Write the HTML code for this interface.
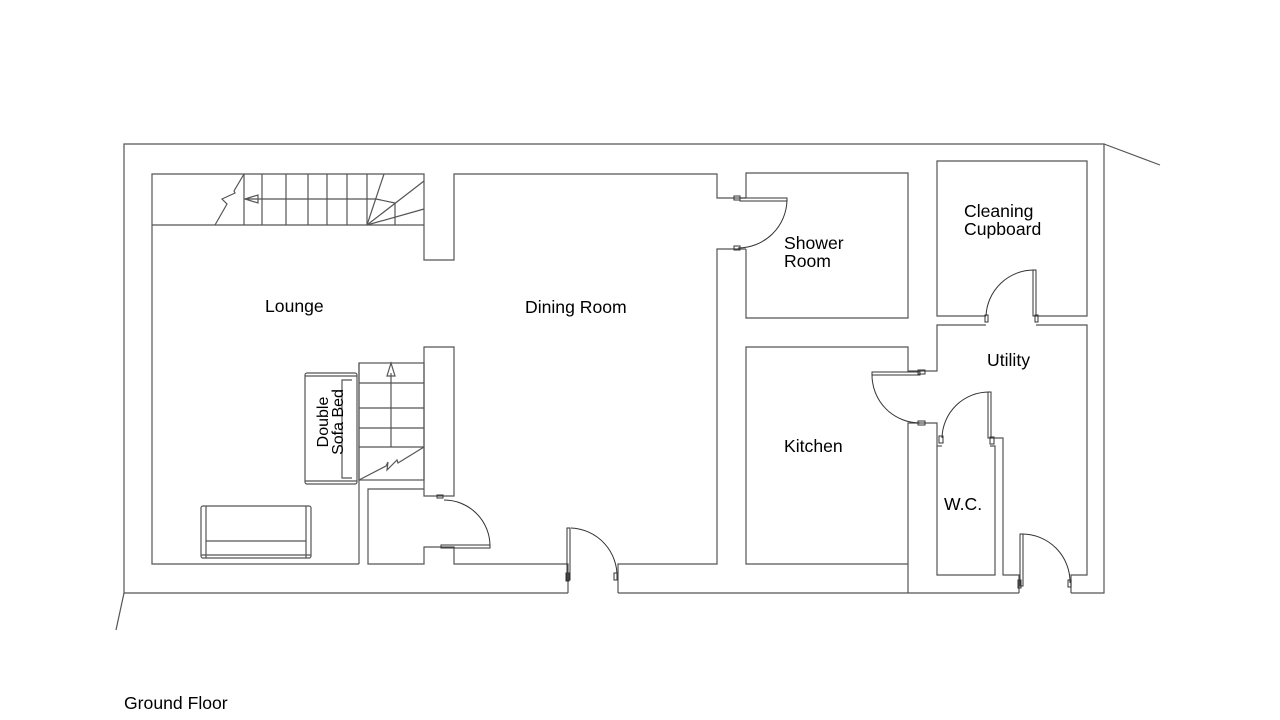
<!DOCTYPE html>
<html><head><meta charset="utf-8"><style>
html,body{margin:0;padding:0;background:#fff;width:1280px;height:720px;overflow:hidden}
svg{display:block}
text{font-family:"Liberation Sans",Arial,sans-serif;font-size:17.6px;fill:#000}
</style></head><body>
<svg width="1280" height="720" viewBox="0 0 1280 720" xmlns="http://www.w3.org/2000/svg">
<g fill="none" stroke="#555" stroke-width="1.2">
<polyline points="568,593 124,593 124,144 1104,144 1104,593 1071,593"/>
<polyline points="618,593 1019,593"/>
<line x1="1104" y1="144" x2="1160" y2="165"/>
<line x1="124" y1="593" x2="116" y2="630"/>
<polyline points="359,564 152,564 152,174 424,174 424,260 454,260 454,174 717,174 717,198 746,198"/>
<polyline points="746,249 717,249 717,564 618,564 618,593"/>
<polyline points="568,593 568,564 454,564 454,547 424,547 424,564 368,564 368,489 424,489 424,496 454,496 454,347 424,347 424,489"/>
<line x1="359" y1="564" x2="359" y2="363"/>
<polyline points="746,198 746,173 908,173 908,318 746,318 746,249"/>
<polyline points="908,564 746,564 746,347 908,347 908,371 937,371 937,325 986,325"/>
<polyline points="1036,325 1087,325 1087,575 1071,575 1071,593"/>
<polyline points="908,593 908,423 937,423 937,575 995,575 995,446 990,446"/>
<polyline points="942,446 937,446"/>
<polyline points="990,438 1003,438 1003,575 1019,575 1019,593"/>
<polyline points="986,316 937,316 937,161 1087,161 1087,316 1036,316"/>
<line x1="152" y1="225" x2="424" y2="225"/>
<line x1="244" y1="174" x2="244" y2="225"/>
<line x1="262" y1="174" x2="262" y2="225"/>
<line x1="286" y1="174" x2="286" y2="225"/>
<line x1="308" y1="174" x2="308" y2="225"/>
<line x1="327" y1="174" x2="327" y2="225"/>
<line x1="347" y1="174" x2="347" y2="225"/>
<line x1="367" y1="174" x2="367" y2="225"/>
<line x1="245" y1="199" x2="376" y2="199"/>
<polygon points="245,199 258,195 258,203"/>
<polyline points="215,225 227,204 222,199 235,193 234,191 244,174"/>
<line x1="367" y1="225" x2="384" y2="174"/>
<line x1="367" y1="225" x2="424" y2="181"/>
<line x1="367" y1="225" x2="424" y2="209"/>
<polyline points="376,199 395,203 395,225"/>
<rect x="359" y="363" width="65" height="117"/>
<line x1="359" y1="383" x2="424" y2="383"/>
<line x1="359" y1="408" x2="424" y2="408"/>
<line x1="359" y1="428" x2="424" y2="428"/>
<line x1="359" y1="447" x2="424" y2="447"/>
<line x1="391" y1="447" x2="391" y2="373"/>
<polygon points="391,363 387,376 395,376"/>
<polyline points="359,480 386,466 388,462 387,470 397,460 398,463 424,447"/>
<rect x="305" y="373" width="52" height="111" rx="2"/>
<line x1="305" y1="376" x2="357" y2="376"/>
<line x1="305" y1="481" x2="357" y2="481"/>
<polyline points="352,380 342,380 342,478 352,478"/>
<rect x="201" y="506" width="110" height="52" rx="2"/>
<line x1="206" y1="506" x2="206" y2="558"/>
<line x1="306" y1="506" x2="306" y2="558"/>
<line x1="206" y1="541" x2="306" y2="541"/>
<line x1="201" y1="555" x2="311" y2="555"/>
</g>
<g fill="none" stroke="#333" stroke-width="1">
<rect x="441" y="545" width="49" height="3"/><path d="M490,546 A46,46 0 0 0 444,500"/><rect x="437" y="495" width="6" height="3"/>
<rect x="567" y="528" width="3" height="52"/><path d="M571,528 A48,48 0 0 1 617,578"/><rect x="614" y="573" width="3" height="7"/><rect x="566" y="573" width="3" height="8"/>
<rect x="740" y="198" width="47" height="3"/><path d="M787,200 A49,49 0 0 1 738,248"/><rect x="734" y="196" width="6" height="4"/><rect x="734" y="246" width="6" height="4"/>
<rect x="872" y="372" width="48" height="3"/><path d="M872,375 A48,48 0 0 0 920,423"/><rect x="918" y="370" width="7" height="4"/><rect x="918" y="421" width="7" height="4"/>
<rect x="988" y="392" width="3" height="46"/><path d="M989,392 A47,47 0 0 0 942,438"/><rect x="939" y="436" width="4" height="7"/><rect x="990" y="437" width="4" height="7"/>
<rect x="1033" y="270" width="3" height="46"/><path d="M1034,270 A48,48 0 0 0 986,316"/><rect x="985" y="315" width="3" height="7"/><rect x="1035" y="315" width="3" height="7"/>
<rect x="1020" y="534" width="3" height="52"/><path d="M1022,534 A48,48 0 0 1 1070,583"/><rect x="1068" y="580" width="3" height="7"/><rect x="1018" y="580" width="3" height="8"/>
</g>
<text x="265" y="312">Lounge</text>
<text x="525" y="313">Dining Room</text>
<text x="784" y="249">Shower</text>
<text x="784" y="267">Room</text>
<text x="964" y="217">Cleaning</text>
<text x="964" y="235">Cupboard</text>
<text x="987" y="366">Utility</text>
<text x="784" y="452">Kitchen</text>
<text x="944" y="510">W.C.</text>
<text x="124" y="709">Ground Floor</text>
<text transform="translate(328,422) rotate(-90)" text-anchor="middle" style="font-size:16px">Double</text>
<text transform="translate(343,422) rotate(-90)" text-anchor="middle" style="font-size:16px">Sofa Bed</text>
</svg>
</body></html>
